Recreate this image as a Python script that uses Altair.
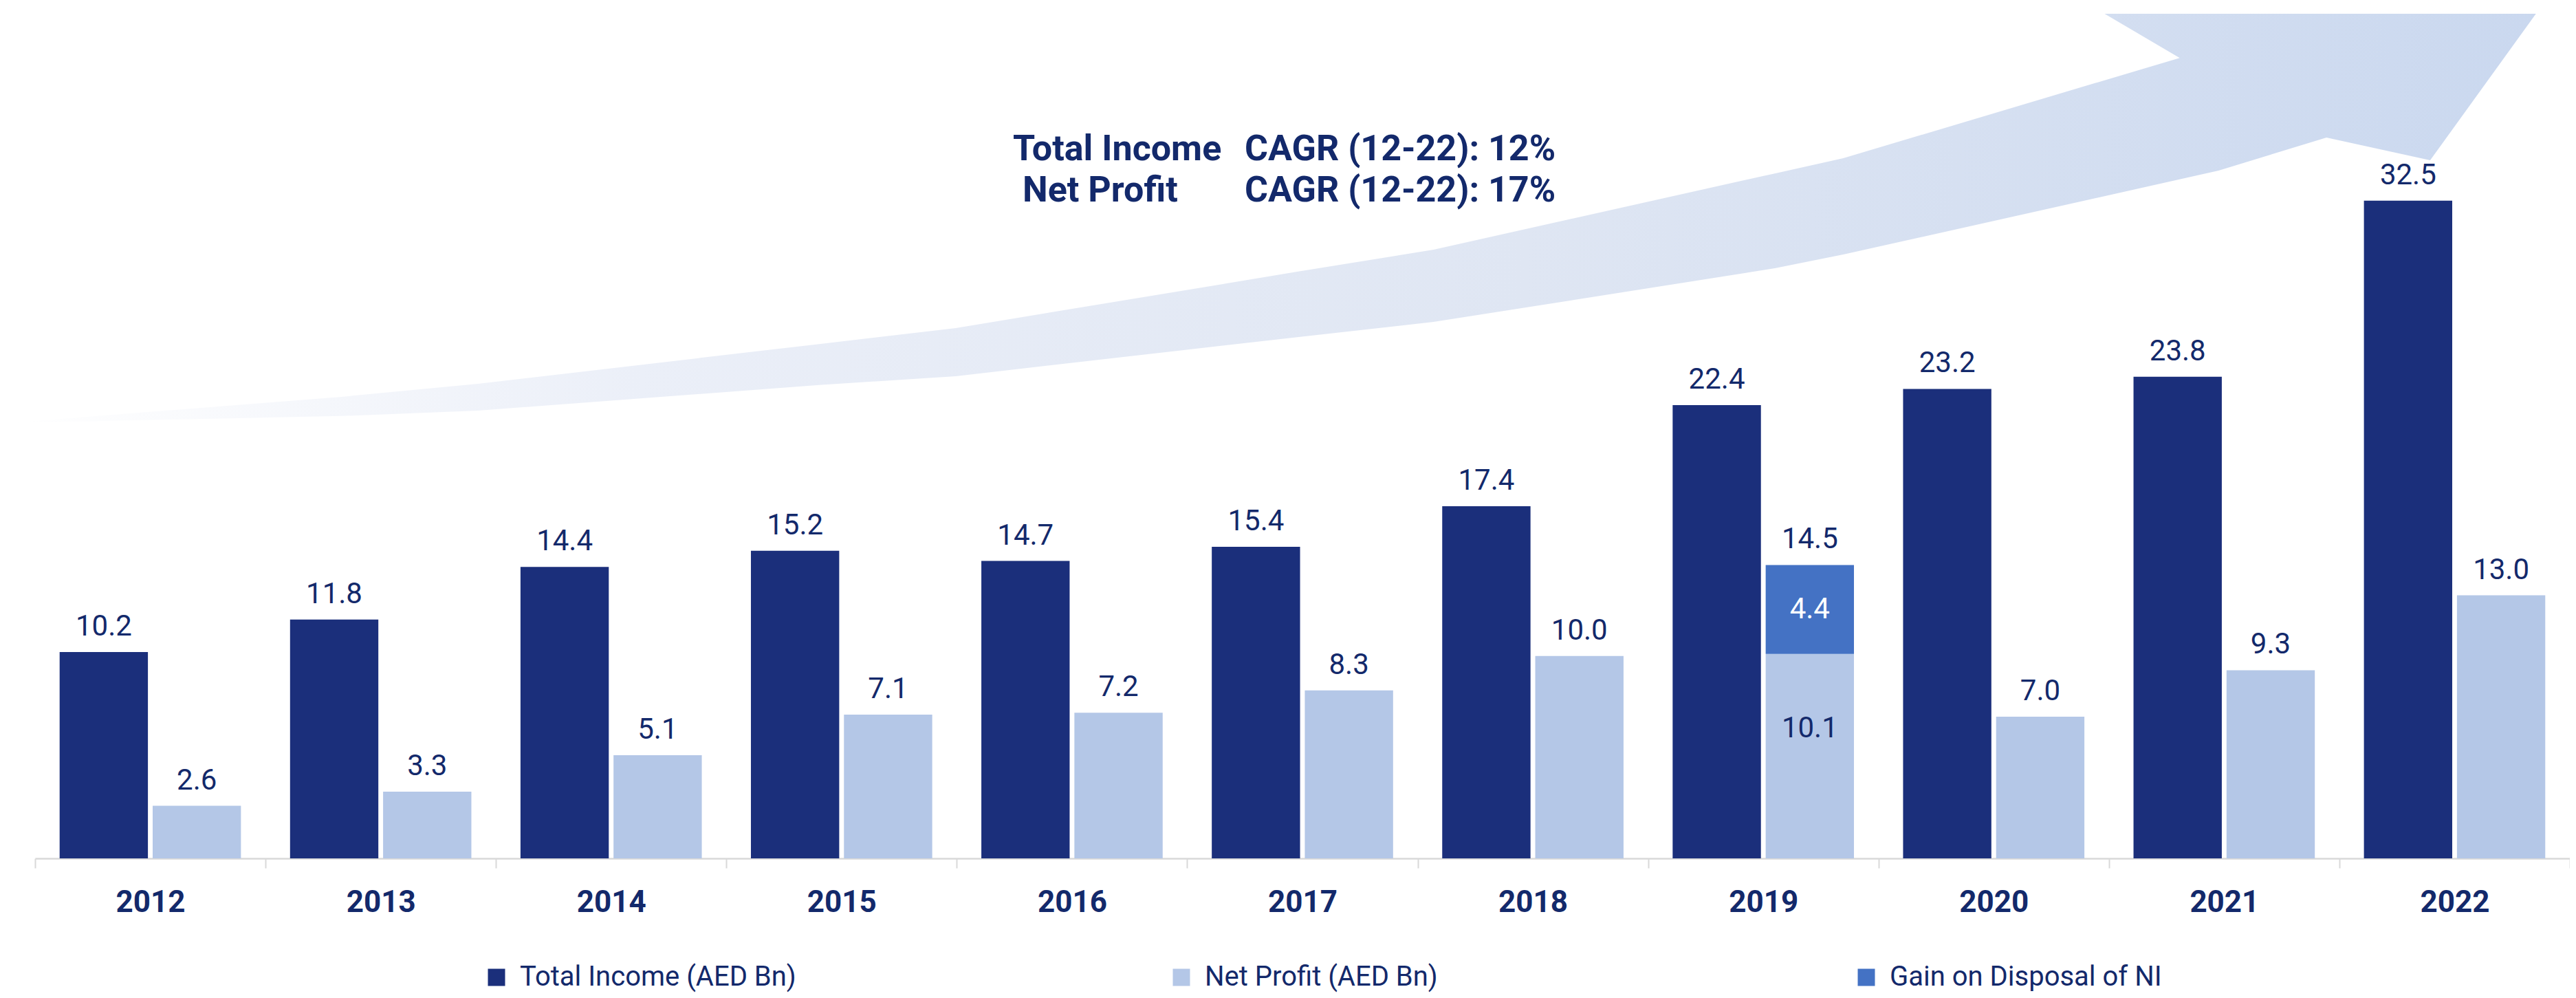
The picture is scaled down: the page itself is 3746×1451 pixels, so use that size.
import altair as alt
import pandas as pd

# ---------------- data ----------------
years = ["2012", "2013", "2014", "2015", "2016", "2017", "2018", "2019", "2020", "2021", "2022"]
total_income = [10.2, 11.8, 14.4, 15.2, 14.7, 15.4, 17.4, 22.4, 23.2, 23.8, 32.5]
net_profit = [2.6, 3.3, 5.1, 7.1, 7.2, 8.3, 10.0, 10.1, 7.0, 9.3, 13.0]
gain_on_disposal = [0, 0, 0, 0, 0, 0, 0, 4.4, 0, 0, 0]

series_names = ["Total Income (AED Bn)", "Net Profit (AED Bn)", "Gain on Disposal of NI"]
series_colors = ["#1b2f7b", "#b4c7e7", "#4472c4"]

cagr_labels = ["Total Income", "Net Profit"]
cagr_values = ["CAGR (12-22): 12%", "CAGR (12-22): 17%"]

# decorative growth arrow outline, in chart units (x: category slots, y: AED Bn)
arrow_x = [-0.113, 1.330, 1.922, 3.403, 3.996, 5.477, 6.069, 7.550, 7.847, 9.307,
           8.981, 10.853, 10.394, 9.944, 9.476, 7.847, 7.550, 6.069, 5.477, 3.996,
           3.403, 1.922, 1.330, -0.113]
arrow_y = [21.52, 22.81, 23.45, 25.42, 26.21, 28.99, 30.08, 33.85, 34.60, 39.56,
           41.74, 41.74, 34.50, 35.62, 33.99, 29.84, 29.16, 26.51, 25.76, 23.83,
           23.39, 22.13, 21.86, 21.52]

# ---------------- styling ----------------
TEXT = "#13296b"
FONT = "Roboto"
W, H = 3686, 1228
YMAX = 41.74

# ---------------- tables ----------------
bar_rows, top_rows, in_gain, in_np = [], [], [], []
for i, yr in enumerate(years):
    ti, npf, g = total_income[i], net_profit[i], gain_on_disposal[i]
    bar_rows.append({"year": yr, "slot": "TI", "series": series_names[0], "y0": 0, "y1": ti})
    bar_rows.append({"year": yr, "slot": "NP", "series": series_names[1], "y0": 0, "y1": npf})
    top_rows.append({"year": yr, "slot": "TI", "total": ti})
    top_rows.append({"year": yr, "slot": "NP", "total": round(npf + g, 1)})
    if g > 0:
        bar_rows.append({"year": yr, "slot": "NP", "series": series_names[2], "y0": npf, "y1": npf + g})
        in_gain.append({"year": yr, "slot": "NP", "mid": npf + g / 2, "v": g})
        in_np.append({"year": yr, "slot": "NP", "mid": npf / 2, "v": npf})

bars_df = pd.DataFrame(bar_rows)
top_df = pd.DataFrame(top_rows)
gain_df = pd.DataFrame(in_gain)
np_df = pd.DataFrame(in_np)
arrow_df = pd.DataFrame({"ax": arrow_x, "ay": arrow_y, "ord": list(range(len(arrow_x)))})

yscale = alt.Scale(domain=[0, YMAX], nice=False, zero=True)

x_enc = alt.X(
    "year:N",
    sort=years,
    scale=alt.Scale(paddingInner=0, paddingOuter=0),
    axis=alt.Axis(
        title=None, labelFont=FONT, labelFontSize=44, labelFontWeight="bold",
        labelColor=TEXT, labelPadding=28, labelAngle=0, tickSize=14, tickColor="#d9d9d9",
        tickWidth=2, domainColor="#d9d9d9", domainWidth=2.5, tickBand="extent", grid=False,
    ),
)
xoff = alt.XOffset("slot:N", sort=["TI", "NP"],
                   scale=alt.Scale(domain=["TI", "NP"], paddingInner=0.051, paddingOuter=0.264))

# ---------------- layers ----------------
arrow = alt.Chart(arrow_df).mark_line(
    fill=alt.Gradient(
        gradient="linear",
        stops=[
            alt.GradientStop(color="#ffffff", offset=0),
            alt.GradientStop(color="#ebeff8", offset=0.25),
            alt.GradientStop(color="#dfe6f3", offset=0.6),
            alt.GradientStop(color="#cad8ef", offset=1),
        ],
        x1=0, x2=1, y1=0, y2=0,
    ),
    strokeOpacity=0,
    strokeWidth=0,
).encode(
    x=alt.X("ax:Q", scale=alt.Scale(domain=[0, 11], nice=False, zero=False), axis=None),
    y=alt.Y("ay:Q", scale=yscale, axis=None),
    order=alt.Order("ord:Q"),
)

bars = alt.Chart(bars_df).mark_bar().encode(
    x=x_enc,
    xOffset=xoff,
    y=alt.Y("y0:Q", scale=yscale, axis=None),
    y2="y1:Q",
    color=alt.Color(
        "series:N",
        scale=alt.Scale(domain=series_names, range=series_colors),
        legend=alt.Legend(
            title=None, orient="none", legendX=651, legendY=1381, direction="horizontal",
            columns=3, gridAlign="all", columnPadding=540, symbolType="square",
            symbolSize=625, symbolStrokeWidth=0, symbolOpacity=1, labelFont=FONT,
            labelFontSize=40, labelColor=TEXT, labelOffset=14, labelLimit=1000,
        ),
    ),
)

top_labels = alt.Chart(top_df).mark_text(
    font=FONT, fontSize=42, color=TEXT, baseline="alphabetic", dy=-24
).encode(
    x=x_enc, xOffset=xoff,
    y=alt.Y("total:Q", scale=yscale, axis=None),
    text=alt.Text("total:Q", format=".1f"),
)

gain_labels = alt.Chart(gain_df).mark_text(
    font=FONT, fontSize=42, color="#ffffff", baseline="middle"
).encode(
    x=x_enc, xOffset=xoff,
    y=alt.Y("mid:Q", scale=yscale, axis=None),
    text=alt.Text("v:Q", format=".1f"),
)

np_labels = alt.Chart(np_df).mark_text(
    font=FONT, fontSize=42, color=TEXT, baseline="middle", dy=-40
).encode(
    x=x_enc, xOffset=xoff,
    y=alt.Y("mid:Q", scale=yscale, axis=None),
    text=alt.Text("v:Q", format=".1f"),
)

one = alt.Data(values=[{"k": 1}])
ann_layers = []
ann_pos_label = [(1422, 213), (1436, 273)]
ann_pos_value = [(1759, 213), (1759, 273)]
for i in range(2):
    ann_layers.append(
        alt.Chart(one).mark_text(
            text=cagr_labels[i], font=FONT, fontSize=52, fontWeight="bold", color=TEXT,
            align="left", baseline="alphabetic",
        ).encode(x=alt.value(ann_pos_label[i][0]), y=alt.value(ann_pos_label[i][1]))
    )
    ann_layers.append(
        alt.Chart(one).mark_text(
            text=cagr_values[i], font=FONT, fontSize=52, fontWeight="bold", color=TEXT,
            align="left", baseline="alphabetic",
        ).encode(x=alt.value(ann_pos_value[i][0]), y=alt.value(ann_pos_value[i][1]))
    )

inner = alt.layer(bars, top_labels, gain_labels, np_labels, *ann_layers)

chart = alt.layer(arrow, inner).resolve_scale(x="independent").properties(
    width=W,
    height=H,
    autosize=alt.AutoSizeParams(type="none"),
    padding={"left": 43, "top": 12, "right": 0, "bottom": 195},
    background="#ffffff",
).configure_view(strokeWidth=0)

chart.save("out.html", embed_options={"renderer": "svg", "actions": False})
